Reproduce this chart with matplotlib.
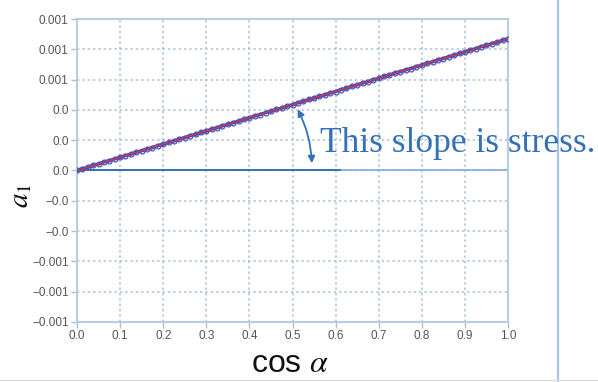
import numpy as np
import matplotlib.pyplot as plt
from matplotlib.lines import Line2D

plt.rcParams['mathtext.fontset'] = 'stix'

# measured a1 values (x 1e-4) at cos(alpha) steps of 0.0125
a1_e4 = [0.00, 0.12, 0.21, 0.34, 0.43, 0.56, 0.64, 0.77, 0.86, 0.99,
         1.08, 1.21, 1.30, 1.42, 1.51, 1.64, 1.73, 1.86, 1.95, 2.08,
         2.17, 2.30, 2.38, 2.51, 2.60, 2.73, 2.82, 2.95, 3.04, 3.16,
         3.25, 3.38, 3.47, 3.60, 3.69, 3.82, 3.91, 4.03, 4.12, 4.25,
         4.34, 4.47, 4.56, 4.69, 4.78, 4.90, 4.99, 5.12, 5.21, 5.34,
         5.43, 5.56, 5.65, 5.77, 5.86, 5.99, 6.08, 6.21, 6.30, 6.43,
         6.52, 6.64, 6.73, 6.86, 6.95, 7.08, 7.17, 7.30, 7.39, 7.51,
         7.60, 7.73, 7.82, 7.95, 8.04, 8.17, 8.26, 8.38, 8.47, 8.60,
         8.70]
cos_alpha = np.linspace(0, 1, len(a1_e4))
a1 = np.array(a1_e4) * 1e-4

fit_x = [0.0, 1.0]
fit_y = [0.0, 0.00087]

x_ticks = [0.0, 0.1, 0.2, 0.3, 0.4, 0.5, 0.6, 0.7, 0.8, 0.9, 1.0]
x_tick_labels = ['0.0', '0.1', '0.2', '0.3', '0.4', '0.5', '0.6', '0.7', '0.8', '0.9', '1.0']
y_ticks = [0.001, 0.0008, 0.0006, 0.0004, 0.0002, 0.0, -0.0002, -0.0004, -0.0006, -0.0008, -0.001]
y_tick_labels = ['0.001', '0.001', '0.001', '0.0', '0.0', '0.0',
                 '\u22120.0', '\u22120.0', '\u22120.001', '\u22120.001', '\u22120.001']

frame_col = '#b7cde3'
grid_col = '#a5c0dd'
blue = '#3570b8'

fig = plt.figure(figsize=(5.98, 3.82), dpi=100)
ax = fig.add_axes([77/598, 1 - 322/382, 431/598, 303/382])

ax.set_xlim(0, 1)
ax.set_ylim(-0.001, 0.001)
ax.set_xticks(x_ticks)
ax.set_xticklabels(x_tick_labels)
ax.set_yticks(y_ticks)
ax.set_yticklabels(y_tick_labels)
ax.tick_params(length=4, width=1, color=grid_col, labelcolor='#555555',
               labelsize=8.5, pad=2)
for lab in ax.get_xticklabels() + ax.get_yticklabels():
    lab.set_family('Liberation Sans')
ax.grid(True, color=grid_col, linestyle=(0, (1.5, 2)), linewidth=1.1)
for s in ax.spines.values():
    s.set_color(frame_col)
    s.set_linewidth(1.5)

# zero line and slope base line
ax.axhline(0, color='#86aad3', linewidth=1.2, zorder=2)
ax.plot([0, 0.61], [0, 0], color='#2f6cb5', linewidth=1.3, zorder=3)

ax.plot(cos_alpha, a1, color='#3a4fb0', linewidth=2.5, marker='o',
        markersize=3.5, markerfacecolor='none', markeredgecolor='#4a55b8',
        markeredgewidth=0.9, zorder=4)
ax.plot(fit_x, fit_y, color='#e0304a', linewidth=0.9, zorder=5)

ax.annotate('', xy=(0.509, 0.00042), xytext=(0.545, 0.00003),
            arrowprops=dict(arrowstyle='<|-|>', color=blue, lw=1.3,
                            mutation_scale=10,
                            connectionstyle='arc3,rad=0.12'), zorder=6)

fig.text(320/598, 1 - 152/382, 'This slope is stress.', color=blue,
         fontsize=25.5, family='Liberation Serif', va='baseline', ha='left')

fig.text(20/598, 1 - 196/382, r'$a_{1}$', fontsize=21, rotation=90,
         ha='center', va='center', color='#111111')
fig.text(290/598, 1 - 372/382, r'cos $\mathit{\alpha}$', fontsize=23,
         family='Liberation Sans', ha='center', va='baseline', color='#111111')

# screenshot borders
fig.add_artist(Line2D([558/598, 558/598], [0, 1], color='#a9c6e8', linewidth=1.6,
                      transform=fig.transFigure))
fig.add_artist(Line2D([0, 1], [1 - 380/382, 1 - 380/382], color='#e2dcdc', linewidth=1,
                      transform=fig.transFigure))

fig.savefig('out.png', dpi=100)
